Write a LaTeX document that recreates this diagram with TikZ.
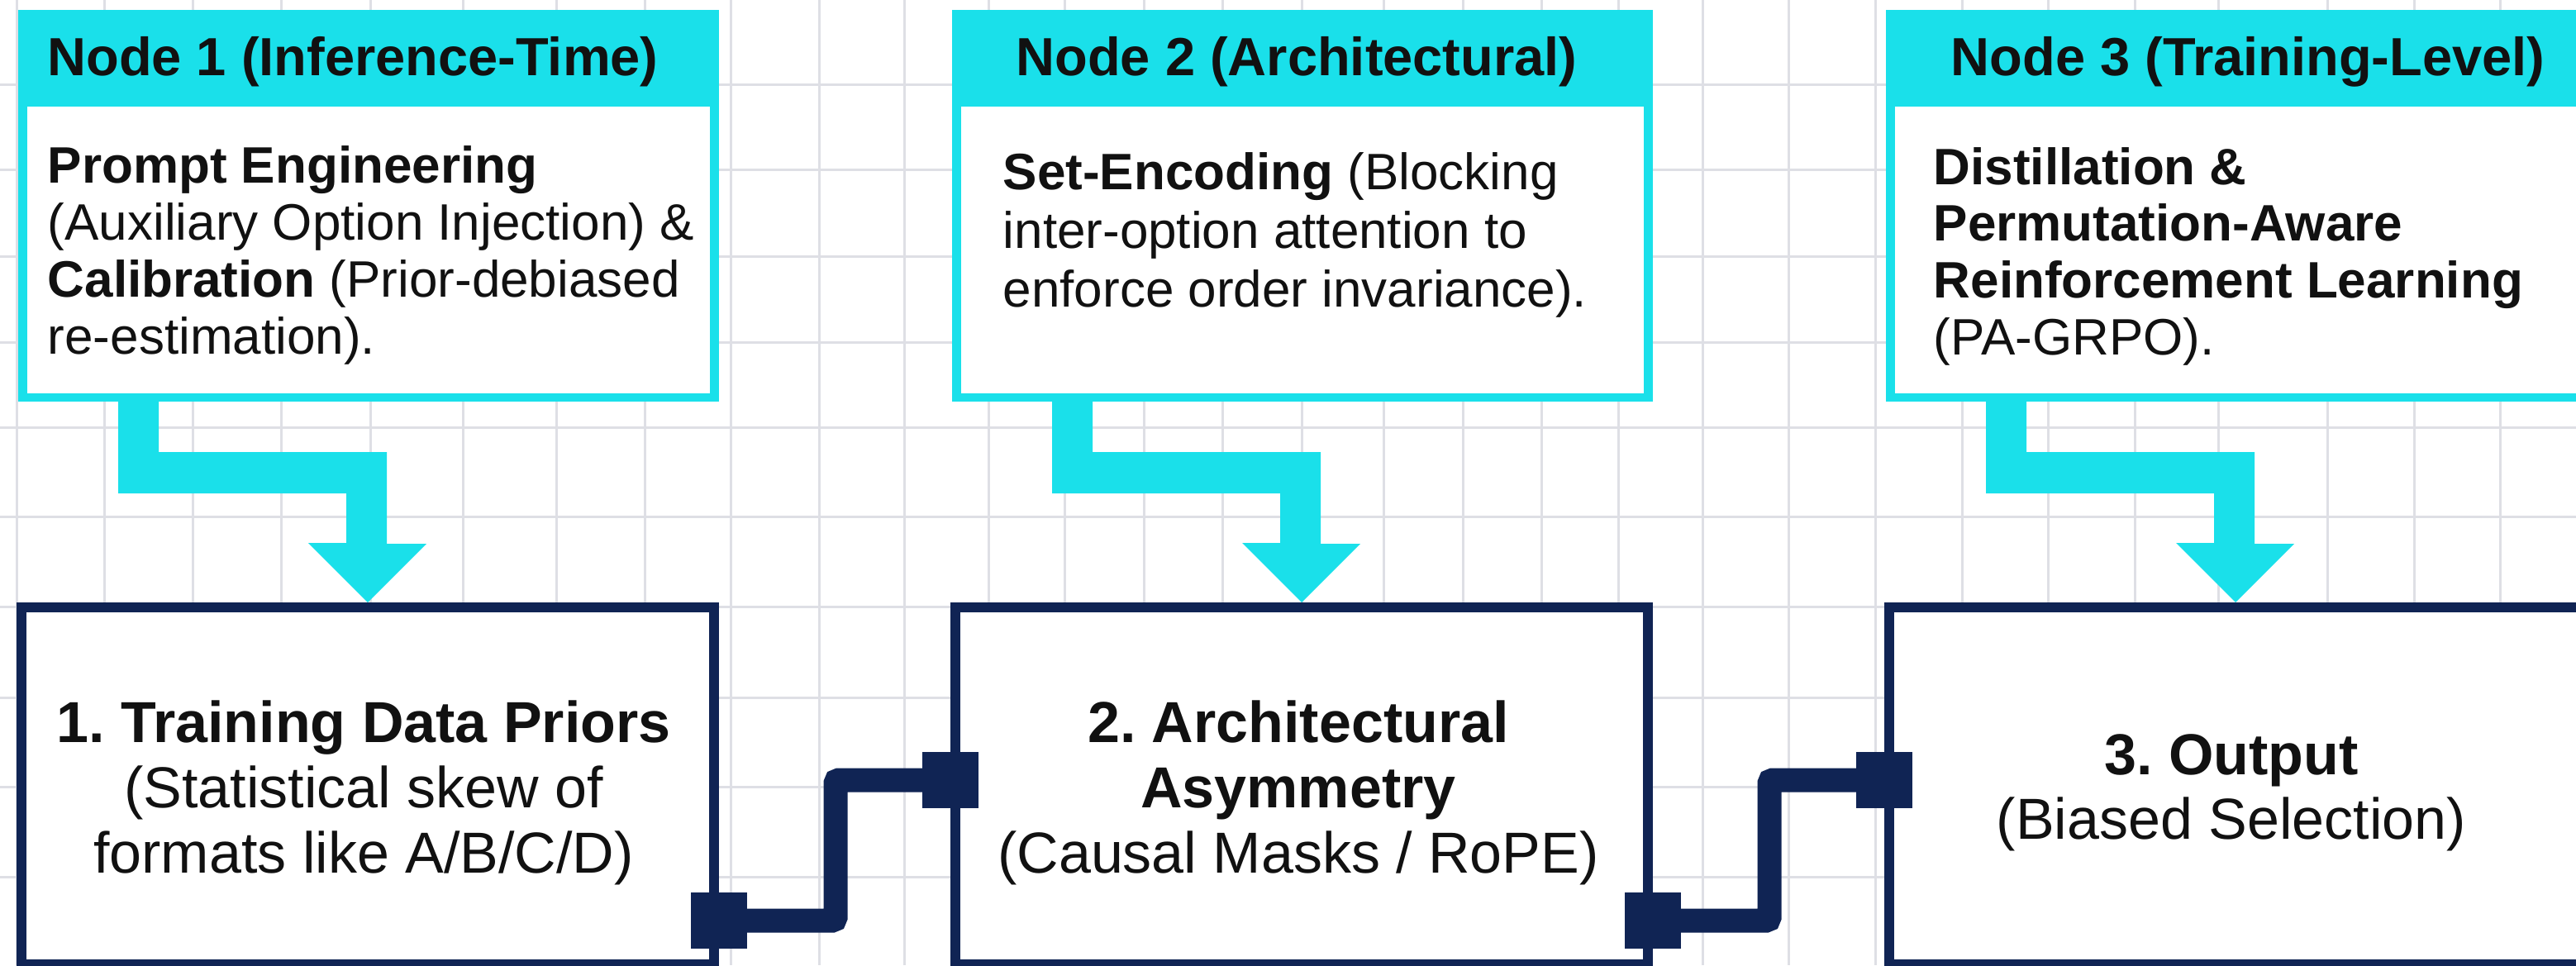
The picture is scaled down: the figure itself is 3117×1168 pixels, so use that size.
\documentclass[tikz,border=0pt]{standalone}
\usepackage{fontspec}
\setmainfont{Liberation Sans}
\usetikzlibrary{calc}
\frenchspacing

\definecolor{cyanc}{RGB}{26,224,234}
\definecolor{navy}{RGB}{16,36,84}
\definecolor{gridc}{RGB}{222,223,229}
\definecolor{ink}{RGB}{17,17,17}

\tikzset{
  upbox/.style={fill=cyanc, draw=none, minimum width=212pt, minimum height=118.5pt, inner sep=0pt, outer sep=0pt},
  lowbox/.style={draw=navy, line width=3pt, fill=white, minimum width=209.5pt, minimum height=108pt, inner sep=0pt},
  port/.style={fill=navy, minimum size=17pt, inner sep=0pt, outer sep=0pt},
  wire/.style={draw=navy, line width=7.25pt, rounded corners=1pt},
  feed/.style={fill=cyanc},
  gridline/.style={draw=gridc, line width=0.75pt},
  headtxt/.style={font=\fontsize{16.25}{19}\selectfont\bfseries, text=ink, inner sep=0pt, anchor=base},
  bodytxt/.style={text=ink, inner sep=0pt, anchor=base west},
  lowtxt/.style={text=ink, inner sep=0pt, anchor=base},
}

\begin{document}
\begin{tikzpicture}[x=0.25pt, y=-0.25pt]
\useasboundingbox (0,0) rectangle (3117,1168);
\clip (0,0) rectangle (3117,1168);
\fill[white] (0,0) rectangle (3117,1168);

% background grid
\foreach \gx in {20,126,233,340,448,560,673,780,884,991,1094,1196,1288,1384,1479,1575,1674,1770,1865,1958,2060,2164,2269,2374,2478,2583,2684,2816,2921,3025}
  \draw[gridline] (\gx,0) -- (\gx,1168);
\foreach \gy in {102,205,310,414,517,625,734,844,952,1061}
  \draw[gridline] (0,\gy) -- (3117,\gy);

% mitigation boxes (cyan frame with header band)
\node[upbox] (t1) at (446,249) {};
\node[upbox] (t2) at (1576,249) {};
\node[upbox] (t3) at (2706,249) {};
\foreach \t in {t1,t2,t3}
  \fill[white] ($(\t.north west)+(11,117)$) rectangle ($(\t.south east)+(-11,-10)$);

% causal chain boxes
\node[lowbox] (b1) at (445,951) {};
\node[lowbox] (b2) at (1575,951) {};
\node[lowbox] (b3) at (2705,951) {};

% stepped cyan feed arrows
\foreach \t/\b in {t1/b1,t2/b2,t3/b3}
  \fill[feed] ($(\t.south west)+(121,0)$) -- ++(49,0) -- ++(0,61) -- ++(276,0) -- ++(0,111) -- ++(48,0)
    -- (\b.north) -- ++(-72,-72) -- ++(46,0) -- ++(0,-60) -- ++(-276,0) -- cycle;

% ports and links between the chain boxes
\node[port] (p1o) at ($(b1.east)+(0,163)$) {};
\node[port] (p2i) at ($(b2.west)+(0,-7)$) {};
\node[port] (p2o) at ($(b2.east)+(0,163)$) {};
\node[port] (p3i) at ($(b3.west)+(0,-7)$) {};
\draw[wire] (p1o) -- ++(141,0) |- (p2i);
\draw[wire] (p2o) -- ++(141,0) |- (p3i);

% header labels
\node[headtxt] (h1) at (427,91) {Node 1 (Inference-Time)};
\node[headtxt] (h2) at (1569,91) {Node 2 (Architectural)};
\node[headtxt] (h3) at (2720,91) {Node 3 (Training-Level)};

% header descriptions
\node[bodytxt] (d1) at (57,221) {\parbox[t]{210pt}{\raggedright\fontsize{15.5}{17.33}\selectfont
  \textbf{Prompt Engineering}\\
  (Auxiliary Option Injection) \&\\
  \textbf{Calibration} (Prior-debiased\\
  re-estimation).}};
\node[bodytxt] (d2) at (1213,229) {\parbox[t]{210pt}{\raggedright\fontsize{15.5}{17.75}\selectfont
  \textbf{Set-Encoding} (Blocking\\
  inter-option attention to\\
  enforce order invariance).}};
\node[bodytxt] (d3) at (2339,223) {\parbox[t]{210pt}{\raggedright\fontsize{15.5}{17.2}\selectfont
  \textbf{Distillation \&}\\
  \textbf{Permutation-Aware}\\
  \textbf{Reinforcement Learning}\\
  (PA-GRPO).}};

% chain box texts
\node[lowtxt] (l1) at (440,898) {\parbox[t]{220pt}{\centering\fontsize{17.5}{19.85}\selectfont
  \textbf{1. Training Data Priors}\\
  (Statistical skew of\\
  formats like A/B/C/D)}};
\node[lowtxt] (l2) at (1571,898) {\parbox[t]{220pt}{\centering\fontsize{17.5}{19.75}\selectfont
  \textbf{2. Architectural}\\
  \textbf{Asymmetry}\\
  (Causal Masks / RoPE)}};
\node[lowtxt] (l3) at (2700,937) {\parbox[t]{220pt}{\centering\fontsize{17.5}{19.6}\selectfont
  \textbf{3. Output}\\
  (Biased Selection)}};
\end{tikzpicture}
\end{document}
